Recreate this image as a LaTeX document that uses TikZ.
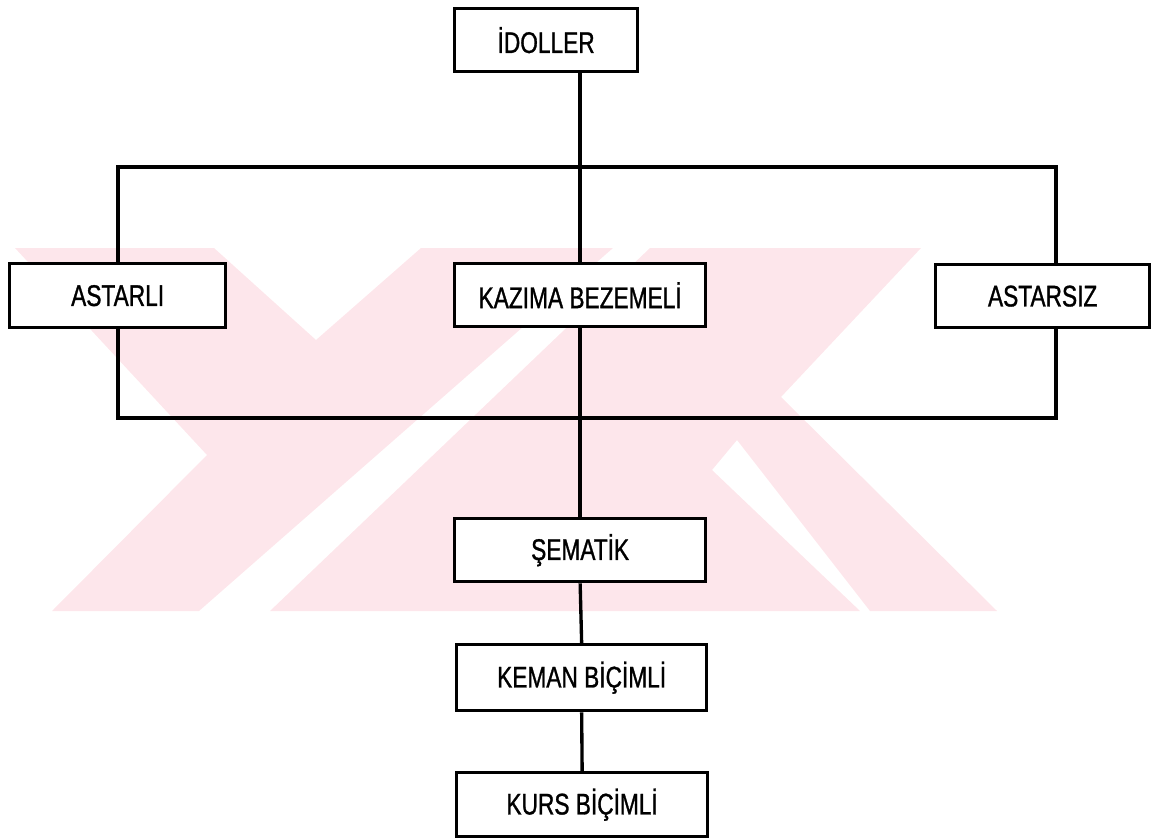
\documentclass[tikz,border=0pt]{standalone}
\usepackage{fontspec}
\setmainfont{Liberation Sans}[FakeStretch=0.76,FakeBold=1]
\definecolor{wm}{RGB}{253,230,235}
\begin{document}
\begin{tikzpicture}[x=0.02cm,y=-0.02cm,
  box/.style={draw=black,line width=1.9pt,fill=white,inner sep=0pt,font=\fontsize{17}{20}\selectfont},
  conn/.style={draw=black,line width=1.9pt,line join=miter}]
\useasboundingbox (0,0) rectangle (1155,838);
% watermark
\fill[wm] (15,248) -- (214,248) -- (316,340) -- (421,248) -- (613,248) -- (199,611) -- (52,611) -- (207,455) -- cycle;
\fill[wm] (650,248) -- (921,248) -- (781,397) -- (997,611) -- (870,611) -- (737,440) -- (712,470) -- (860,611) -- (270,611) -- cycle;
% nodes
\node[box,anchor=north west,minimum width=3.66cm,minimum height=1.26cm] (idol) at (453,7) {İDOLLER};
\node[box,anchor=north west,minimum width=4.32cm,minimum height=1.28cm] (ast) at (8,262) {ASTARLI};
\node[box,anchor=north west,minimum width=5.02cm,minimum height=1.26cm] (kaz) at (453,262) {KAZIMA BEZEMELİ};
\node[box,anchor=north west,minimum width=4.28cm,minimum height=1.26cm] (asz) at (934,263) {ASTARSIZ};
\node[box,anchor=north west,minimum width=5.02cm,minimum height=1.26cm] (sem) at (453,517) {ŞEMATİK};
\node[box,anchor=north west,minimum width=5.0cm,minimum height=1.32cm] (kem) at (455,643) {KEMAN BİÇİMLİ};
\node[box,anchor=north west,minimum width=5.02cm,minimum height=1.28cm] (kur) at (455,771) {KURS BİÇİMLİ};
\coordinate (tl) at (118,167);
\coordinate (tr) at (1056,167);
\coordinate (bl) at (118,418);
\coordinate (br) at (1056,418);
% connectors
\draw[conn] (kaz.north) -- (kaz.north |- idol.south);
\draw[conn] (ast.north -| tl) -- (tl) -- (tr) -- (asz.north -| tr);
\draw[conn] (ast.south -| bl) -- (bl) -- (br) -- (asz.south -| br);
\draw[conn] (kaz.south) -- (sem.north);
\draw[conn] (sem.south) -- (kem.north);
\draw[conn] (kem.south) -- (kur.north);
\end{tikzpicture}
\end{document}
